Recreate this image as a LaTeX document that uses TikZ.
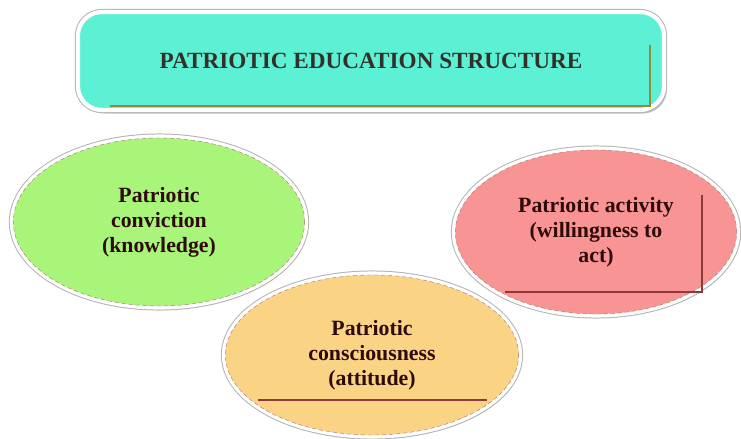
\documentclass[tikz,border=0pt]{standalone}
\usepackage{fontspec}
\setmainfont{Liberation Serif}
\usetikzlibrary{shapes.geometric,shadows,calc}

\definecolor{titlefill}{HTML}{5CF0D4}
\definecolor{convfill}{HTML}{A8F57A}
\definecolor{actfill}{HTML}{F99494}
\definecolor{consfill}{HTML}{FAD384}
\definecolor{oliveline}{HTML}{8C8C3C}
\definecolor{brownline}{HTML}{8C3A3A}
\definecolor{inkred}{HTML}{2E0A0A}

\tikzset{
  bubble/.style={ellipse, draw=brownline!70, densely dashed, line width=.3pt,
    align=center, inner sep=0pt, text=inkred,
    font=\bfseries\fontsize{15.5}{17.7}\selectfont,
    drop shadow={shadow xshift=2pt, shadow yshift=-2.5pt, opacity=.4, fill=black!60},
    preaction={draw=black!30, solid, line width=6.4pt},
    preaction={draw=white, solid, line width=5pt}},
  headbox/.style={rectangle, rounded corners=0.6cm, draw=white, line width=3pt,
    fill=titlefill, text=black!85!olive,
    font=\bfseries\fontsize{16.5}{19}\selectfont,
    drop shadow={shadow xshift=2pt, shadow yshift=-2.5pt, opacity=.4, fill=black!60},
    preaction={draw=black!30, line width=4.4pt}},
  inline/.style={line width=1.1pt},
}

\begin{document}
\begin{tikzpicture}[x=0.025cm, y=-0.025cm]
  \useasboundingbox (0,0) rectangle (741,439);

  \node[headbox, minimum width=14.65cm, minimum height=2.45cm] (head) at (371,61)
    {PATRIOTIC EDUCATION STRUCTURE};
  \draw[inline, oliveline] ($(head.center)+(279,-16)$) |- ($(head.center)+(-261,45)$);

  \node[bubble, fill=convfill, minimum width=7.28cm, minimum height=4.2cm] (conv) at (159,222)
    {Patriotic\\conviction\\(knowledge)};

  \node[bubble, fill=actfill, minimum width=7.03cm, minimum height=4.1cm] (act) at (596,232)
    {Patriotic activity\\(willingness to\\act)};
  \draw[inline, brownline] ($(act.center)+(106,-37)$) |- ($(act.center)+(-91,60)$);

  \node[bubble, fill=consfill, minimum width=7.33cm, minimum height=4.0cm] (cons) at (372,355)
    {Patriotic\\consciousness\\(attitude)};
  \draw[inline, brownline, line width=.8pt] ($(cons.center)+(-114,45)$) -- ($(cons.center)+(115,45)$);
\end{tikzpicture}
\end{document}
